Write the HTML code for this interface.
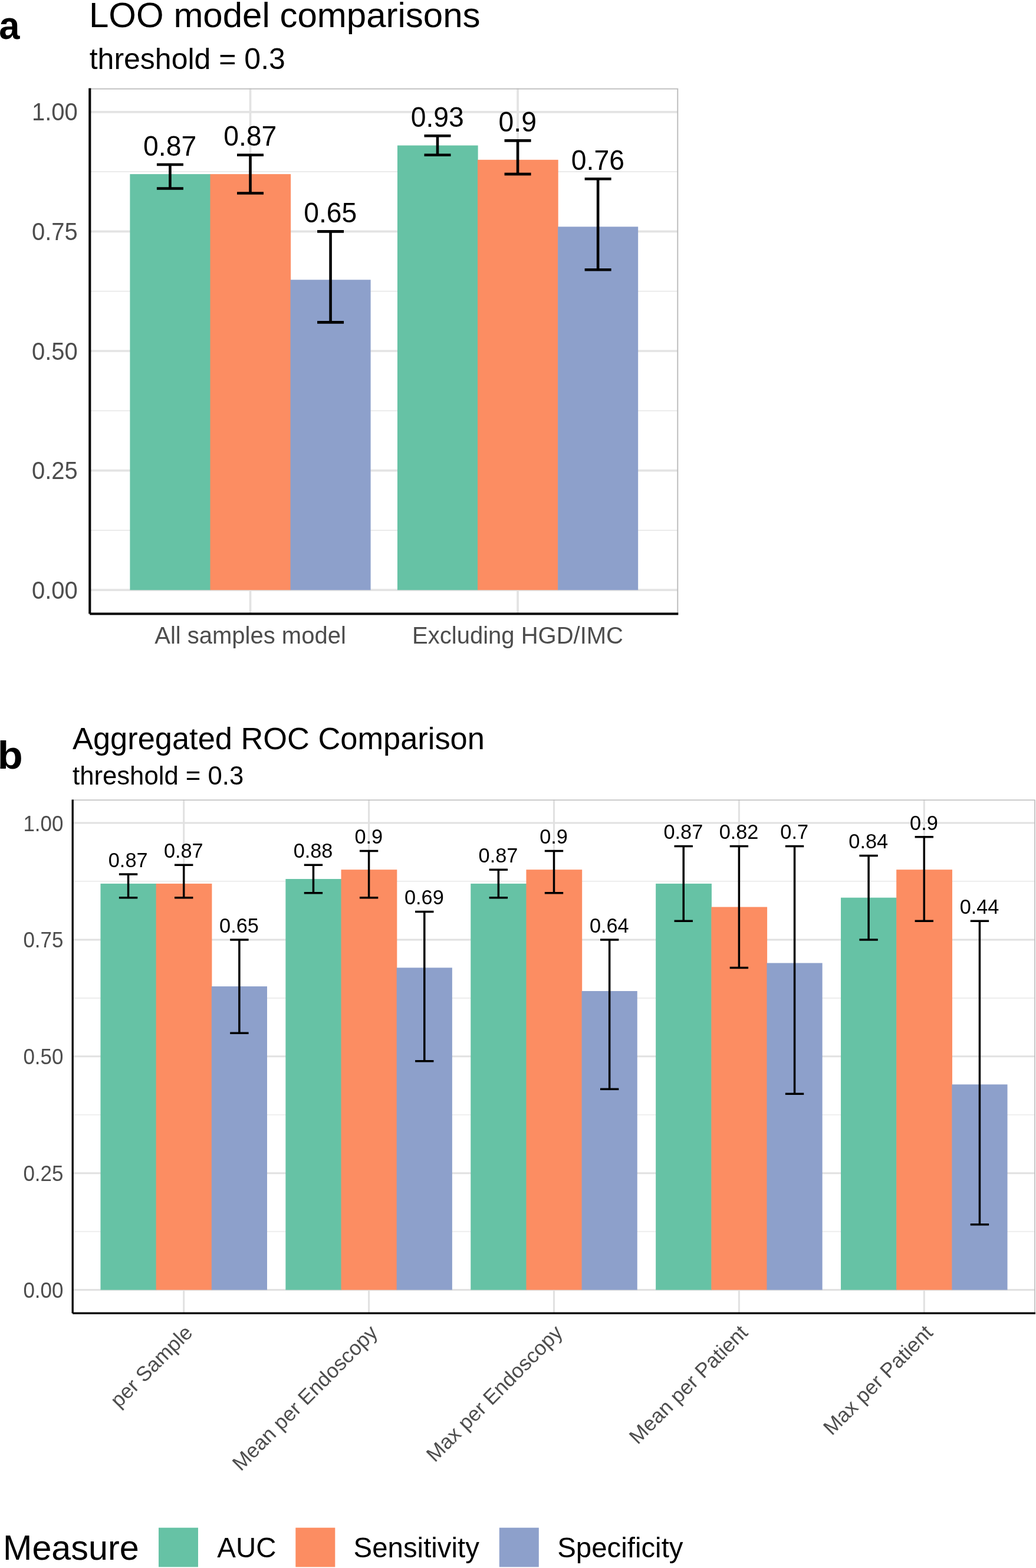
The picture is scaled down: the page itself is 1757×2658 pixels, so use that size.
<!DOCTYPE html>
<html lang="en"><head><meta charset="utf-8"><title>LOO model comparisons / Aggregated ROC Comparison</title>
<style>html,body{margin:0;padding:0;background:#fff}body{width:1757px;height:2658px;overflow:hidden}svg{display:block}text{font-family:'Liberation Sans', Arial, Helvetica, sans-serif}</style>
</head><body>
<svg width="1757" height="2658" viewBox="0 0 1757 2658" role="img" aria-label="Bar charts comparing AUC, sensitivity and specificity" font-family='"Liberation Sans", Arial, Helvetica, sans-serif'>
<rect width="1757" height="2658" fill="#fff"/>
<g id="panel-a">
<g stroke="#ebebeb" stroke-width="2.0">
<line x1="152.37" x2="1149.3" y1="898.9" y2="898.9"/>
<line x1="152.37" x2="1149.3" y1="696.3" y2="696.3"/>
<line x1="152.37" x2="1149.3" y1="493.7" y2="493.7"/>
<line x1="152.37" x2="1149.3" y1="291.1" y2="291.1"/>
</g>
<g stroke="#e3e3e3" stroke-width="3.7">
<line x1="152.37" x2="1149.3" y1="1000.2" y2="1000.2"/>
<line x1="152.37" x2="1149.3" y1="797.6" y2="797.6"/>
<line x1="152.37" x2="1149.3" y1="595" y2="595"/>
<line x1="152.37" x2="1149.3" y1="392.4" y2="392.4"/>
<line x1="152.37" x2="1149.3" y1="189.8" y2="189.8"/>
<line x1="424.51" x2="424.51" y1="149.6" y2="1040.5"/>
<line x1="878.06" x2="878.06" y1="149.6" y2="1040.5"/>
</g>
<g>
<rect x="220.4" y="295.15" width="136.67" height="705.05" fill="#66c2a5"/>
<rect x="356.47" y="295.15" width="136.67" height="705.05" fill="#fc8d62"/>
<rect x="492.54" y="474.25" width="136.07" height="525.95" fill="#8da0cb"/>
<rect x="673.96" y="246.53" width="136.67" height="753.67" fill="#66c2a5"/>
<rect x="810.03" y="270.84" width="136.67" height="729.36" fill="#fc8d62"/>
<rect x="946.1" y="384.3" width="136.07" height="615.9" fill="#8da0cb"/>
</g>
<g stroke="#000" stroke-width="4.6" fill="none">
<path d="M265.94 278.94H310.94M288.44 278.94V319.46M265.94 319.46H310.94"/>
<path d="M402.01 262.74H447.01M424.51 262.74V327.57M402.01 327.57H447.01"/>
<path d="M538.07 392.4H583.07M560.57 392.4V546.38M538.07 546.38H583.07"/>
<path d="M719.5 230.32H764.5M742 230.32V262.74M719.5 262.74H764.5"/>
<path d="M855.56 238.42H900.56M878.06 238.42V295.15M855.56 295.15H900.56"/>
<path d="M991.63 303.26H1036.63M1014.13 303.26V457.23M991.63 457.23H1036.63"/>
</g>
<g font-size="46.3" text-anchor="middle" fill="#000">
<text transform="translate(288.14 263.64) scale(1 1.04)">0.87</text>
<text transform="translate(424.21 247.44) scale(1 1.04)">0.87</text>
<text transform="translate(560.27 377.1) scale(1 1.04)">0.65</text>
<text transform="translate(741.7 215.02) scale(1 1.04)">0.93</text>
<text transform="translate(877.76 223.12) scale(1 1.04)">0.9</text>
<text transform="translate(1013.83 287.96) scale(1 1.04)">0.76</text>
</g>
<path d="M152.37 150.6H1149.3V1040.5" fill="none" stroke="#bbbbbb" stroke-width="1.9"/>
<g stroke="#000" stroke-width="4.1" fill="none">
<line x1="152.3" x2="152.3" y1="149.6" y2="1040.5"/>
<line x1="152.3" x2="1150.3" y1="1040.5" y2="1040.5"/>
</g>
<g font-size="40" text-anchor="end" fill="#4d4d4d">
<text transform="translate(131.8 1014.8) scale(1 1.04)">0.00</text>
<text transform="translate(131.8 812.2) scale(1 1.04)">0.25</text>
<text transform="translate(131.8 609.6) scale(1 1.04)">0.50</text>
<text transform="translate(131.8 407) scale(1 1.04)">0.75</text>
<text transform="translate(131.8 204.4) scale(1 1.04)">1.00</text>
</g>
<g font-size="40" text-anchor="middle" fill="#4d4d4d">
<text x="424.51" y="1090.5">All samples model</text>
<text x="878.06" y="1090.5">Excluding HGD/IMC</text>
</g>
<text x="151" y="45.6" font-size="60" fill="#000">LOO model comparisons</text>
<text x="151.7" y="116.7" font-size="50" fill="#000">threshold = 0.3</text>
<text transform="translate(-1.8 66.4) scale(0.945 1)" font-size="67" font-weight="bold" fill="#000">a</text>
</g>
<g id="panel-b">
<g stroke="#ebebeb" stroke-width="1.7">
<line x1="123.39" x2="1755" y1="2087.65" y2="2087.65"/>
<line x1="123.39" x2="1755" y1="1889.75" y2="1889.75"/>
<line x1="123.39" x2="1755" y1="1691.85" y2="1691.85"/>
<line x1="123.39" x2="1755" y1="1493.95" y2="1493.95"/>
</g>
<g stroke="#e1e1e1" stroke-width="3.0">
<line x1="123.39" x2="1755" y1="2186.6" y2="2186.6"/>
<line x1="123.39" x2="1755" y1="1988.7" y2="1988.7"/>
<line x1="123.39" x2="1755" y1="1790.8" y2="1790.8"/>
<line x1="123.39" x2="1755" y1="1592.9" y2="1592.9"/>
<line x1="123.39" x2="1755" y1="1395" y2="1395"/>
<line x1="311.72" x2="311.72" y1="1355.4" y2="2226.2"/>
<line x1="625.61" x2="625.61" y1="1355.4" y2="2226.2"/>
<line x1="939.5" x2="939.5" y1="1355.4" y2="2226.2"/>
<line x1="1253.4" x2="1253.4" y1="1355.4" y2="2226.2"/>
<line x1="1567.29" x2="1567.29" y1="1355.4" y2="2226.2"/>
</g>
<g>
<rect x="170.47" y="1497.91" width="94.77" height="688.69" fill="#66c2a5"/>
<rect x="264.64" y="1497.91" width="94.77" height="688.69" fill="#fc8d62"/>
<rect x="358.81" y="1672.06" width="94.17" height="514.54" fill="#8da0cb"/>
<rect x="484.36" y="1489.99" width="94.77" height="696.61" fill="#66c2a5"/>
<rect x="578.53" y="1474.16" width="94.77" height="712.44" fill="#fc8d62"/>
<rect x="672.7" y="1640.4" width="94.17" height="546.2" fill="#8da0cb"/>
<rect x="798.25" y="1497.91" width="94.77" height="688.69" fill="#66c2a5"/>
<rect x="892.42" y="1474.16" width="94.77" height="712.44" fill="#fc8d62"/>
<rect x="986.59" y="1679.98" width="94.17" height="506.62" fill="#8da0cb"/>
<rect x="1112.14" y="1497.91" width="94.77" height="688.69" fill="#66c2a5"/>
<rect x="1206.31" y="1537.49" width="94.77" height="649.11" fill="#fc8d62"/>
<rect x="1300.48" y="1632.48" width="94.17" height="554.12" fill="#8da0cb"/>
<rect x="1426.04" y="1521.66" width="94.77" height="664.94" fill="#66c2a5"/>
<rect x="1520.2" y="1474.16" width="94.77" height="712.44" fill="#fc8d62"/>
<rect x="1614.37" y="1838.3" width="94.17" height="348.3" fill="#8da0cb"/>
</g>
<g stroke="#000" stroke-width="3.5" fill="none">
<path d="M201.86 1482.08H233.26M217.56 1482.08V1521.66M201.86 1521.66H233.26"/>
<path d="M296.02 1466.24H327.42M311.72 1466.24V1521.66M296.02 1521.66H327.42"/>
<path d="M390.19 1592.9H421.59M405.89 1592.9V1751.22M390.19 1751.22H421.59"/>
<path d="M515.75 1466.24H547.15M531.45 1466.24V1513.74M515.75 1513.74H547.15"/>
<path d="M609.91 1442.5H641.31M625.61 1442.5V1521.66M609.91 1521.66H641.31"/>
<path d="M704.08 1545.4H735.48M719.78 1545.4V1798.72M704.08 1798.72H735.48"/>
<path d="M829.64 1474.16H861.04M845.34 1474.16V1521.66M829.64 1521.66H861.04"/>
<path d="M923.8 1442.5H955.2M939.5 1442.5V1513.74M923.8 1513.74H955.2"/>
<path d="M1017.97 1592.9H1049.37M1033.67 1592.9V1846.21M1017.97 1846.21H1049.37"/>
<path d="M1143.53 1434.58H1174.93M1159.23 1434.58V1561.24M1143.53 1561.24H1174.93"/>
<path d="M1237.7 1434.58H1269.1M1253.4 1434.58V1640.4M1237.7 1640.4H1269.1"/>
<path d="M1331.86 1434.58H1363.26M1347.56 1434.58V1854.13M1331.86 1854.13H1363.26"/>
<path d="M1457.42 1450.41H1488.82M1473.12 1450.41V1592.9M1457.42 1592.9H1488.82"/>
<path d="M1551.59 1418.75H1582.99M1567.29 1418.75V1561.24M1551.59 1561.24H1582.99"/>
<path d="M1645.75 1561.24H1677.15M1661.45 1561.24V2075.78M1645.75 2075.78H1677.15"/>
</g>
<g font-size="34.3" text-anchor="middle" fill="#000">
<text transform="translate(217.16 1469.88) scale(1 1.04)">0.87</text>
<text transform="translate(311.32 1454.04) scale(1 1.04)">0.87</text>
<text transform="translate(405.49 1580.7) scale(1 1.04)">0.65</text>
<text transform="translate(531.05 1454.04) scale(1 1.04)">0.88</text>
<text transform="translate(625.21 1430.3) scale(1 1.04)">0.9</text>
<text transform="translate(719.38 1533.2) scale(1 1.04)">0.69</text>
<text transform="translate(844.94 1461.96) scale(1 1.04)">0.87</text>
<text transform="translate(939.1 1430.3) scale(1 1.04)">0.9</text>
<text transform="translate(1033.27 1580.7) scale(1 1.04)">0.64</text>
<text transform="translate(1158.83 1422.38) scale(1 1.04)">0.87</text>
<text transform="translate(1253 1422.38) scale(1 1.04)">0.82</text>
<text transform="translate(1347.16 1422.38) scale(1 1.04)">0.7</text>
<text transform="translate(1472.72 1438.21) scale(1 1.04)">0.84</text>
<text transform="translate(1566.89 1406.55) scale(1 1.04)">0.9</text>
<text transform="translate(1661.05 1549.04) scale(1 1.04)">0.44</text>
</g>
<path d="M123.39 1356.3H1755V2226.2" fill="none" stroke="#bbbbbb" stroke-width="1.6"/>
<g stroke="#000" stroke-width="3.3" fill="none">
<line x1="123.2" x2="123.2" y1="1355.4" y2="2226.2"/>
<line x1="123.2" x2="1756" y1="2226.2" y2="2226.2"/>
</g>
<g font-size="35" text-anchor="end" fill="#4d4d4d">
<text transform="translate(107.5 2200.1) scale(1 1.04)">0.00</text>
<text transform="translate(107.5 2002.2) scale(1 1.04)">0.25</text>
<text transform="translate(107.5 1804.3) scale(1 1.04)">0.50</text>
<text transform="translate(107.5 1606.4) scale(1 1.04)">0.75</text>
<text transform="translate(107.5 1408.5) scale(1 1.04)">1.00</text>
</g>
<g font-size="35" text-anchor="end" fill="#4d4d4d">
<text transform="translate(328.42 2261.2) rotate(-45)">per Sample</text>
<text transform="translate(642.31 2261.2) rotate(-45)">Mean per Endoscopy</text>
<text transform="translate(956.2 2261.2) rotate(-45)">Max per Endoscopy</text>
<text transform="translate(1270.1 2261.2) rotate(-45)">Mean per Patient</text>
<text transform="translate(1583.99 2261.2) rotate(-45)">Max per Patient</text>
</g>
<text x="123" y="1269.8" font-size="52.4" fill="#000">Aggregated ROC Comparison</text>
<text x="123" y="1329.5" font-size="43.7" fill="#000">threshold = 0.3</text>
<text transform="translate(-4.2 1302.7) scale(1.05 0.985)" font-size="67" font-weight="bold" fill="#000">b</text>
</g>
<g id="legend">
<text x="5" y="2644" font-size="59.3" fill="#000">Measure</text>
<rect x="269" y="2589.7" width="67" height="66.6" fill="#66c2a5"/>
<text x="368.3" y="2640" font-size="47.4" fill="#000">AUC</text>
<rect x="501.3" y="2589.7" width="67" height="66.6" fill="#fc8d62"/>
<text x="599.6" y="2640" font-size="47.4" fill="#000">Sensitivity</text>
<rect x="846.8" y="2589.7" width="67" height="66.6" fill="#8da0cb"/>
<text x="945.2" y="2640" font-size="47.4" fill="#000">Specificity</text>
</g>
</svg></body></html>
